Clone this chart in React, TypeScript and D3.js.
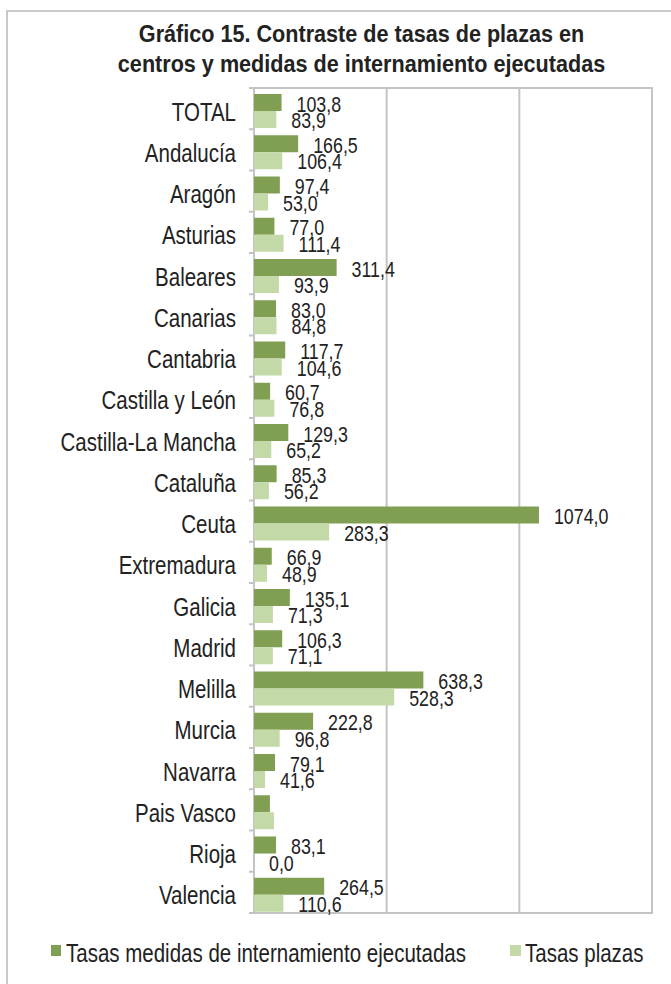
import React from "react";
import * as d3 from "d3";

const categories = [
  "TOTAL", "Andalucía", "Aragón", "Asturias", "Baleares", "Canarias", "Cantabria",
  "Castilla y León", "Castilla-La Mancha", "Cataluña", "Ceuta", "Extremadura",
  "Galicia", "Madrid", "Melilla", "Murcia", "Navarra", "Pais Vasco", "Rioja", "Valencia",
];
const medidas = [103.8, 166.5, 97.4, 77.0, 311.4, 83.0, 117.7, 60.7, 129.3, 85.3, 1074.0, 66.9, 135.1, 106.3, 638.3, 222.8, 79.1, 60, 83.1, 264.5];
const plazas = [83.9, 106.4, 53.0, 111.4, 93.9, 84.8, 104.6, 76.8, 65.2, 56.2, 283.3, 48.9, 71.3, 71.1, 528.3, 96.8, 41.6, 75, 0.0, 110.6];
const showLabel = categories.map((c) => c !== "Pais Vasco");
const xTicks = [0, 500, 1000, 1500];
const seriesNames = ["Tasas medidas de internamiento ejecutadas", "Tasas plazas"];

const DARK = "#809F52";
const LIGHT = "#C3D9A7";
const GRID = "#C4C4C4";
const TXT = "#222222";
const FONT = "'Liberation Sans', Arial, sans-serif";

const fmt = (v: number) => v.toFixed(1).replace(".", ",");

function T({ x, y, size, anchor = "start", bold = false, sx = 0.82, children }: any) {
  return (
    <text
      transform={`translate(${x},${y}) scale(${sx},1)`}
      fontSize={size}
      fontFamily={FONT}
      fontWeight={bold ? "bold" : "normal"}
      textAnchor={anchor}
      fill={TXT}
    >
      {children}
    </text>
  );
}

export default function App() {
  const W = 671, H = 984;
  const left = 254, right = 652, top = 88, bottom = 913;
  const x = d3.scaleLinear().domain([0, 1500]).range([left, right]);
  const y = d3.scaleBand<string>().domain(categories).range([top, bottom]).padding(0);
  const bw = y.bandwidth();
  const barH = 17;
  const off = 6;
  const boundaries = d3.range(categories.length + 1).map((i) => top + i * bw);

  return (
    <svg width={W} height={H} style={{ position: "absolute", left: 0, top: 0, display: "block", background: "#fff" }}>
      <rect x={0} y={0} width={W} height={H} fill="#fff" />
      <rect x={7} y={11} width={800} height={1100} fill="none" stroke="#C8C8C8" strokeWidth={2} />
      <T x={361.5} y={42} size={24} anchor="middle" bold sx={0.9}>Gráfico 15. Contraste de tasas de plazas en</T>
      <T x={361.5} y={72} size={24} anchor="middle" bold sx={0.9}>centros y medidas de internamiento ejecutadas</T>

      {xTicks.slice(1, -1).map((t) => (
        <line key={t} x1={x(t)} x2={x(t)} y1={top} y2={bottom} stroke={GRID} strokeWidth={2} />
      ))}
      <rect x={left} y={top} width={right - left} height={bottom - top} fill="none" stroke={GRID} strokeWidth={2} />
      {boundaries.map((b, i) => (
        <line key={i} x1={left - 5} x2={left} y1={b} y2={b} stroke={GRID} strokeWidth={2} />
      ))}

      {categories.map((c, i) => {
        const y0 = y(c)!;
        return (
          <g key={c}>
            <rect x={x(0)} y={y0 + off} width={x(medidas[i]) - x(0)} height={barH} fill={DARK} />
            <rect x={x(0)} y={y0 + off + barH} width={x(plazas[i]) - x(0)} height={barH} fill={LIGHT} />
            <T x={236} y={y0 + bw / 2 + 12} size={25} anchor="end">{c}</T>
            {showLabel[i] && (
              <>
                <T x={x(medidas[i]) + 15} y={y0 + off + barH + 0.5} size={22} sx={0.81}>{fmt(medidas[i])}</T>
                <T x={x(plazas[i]) + 15} y={y0 + off + 2 * barH} size={22} sx={0.81}>{fmt(plazas[i])}</T>
              </>
            )}
          </g>
        );
      })}

      <rect x={51} y={945} width={10} height={11} fill={DARK} />
      <T x={66} y={962} size={25}>{seriesNames[0]}</T>
      <rect x={510} y={945} width={11} height={11} fill={LIGHT} />
      <T x={525} y={962} size={25}>{seriesNames[1]}</T>
    </svg>
  );
}
